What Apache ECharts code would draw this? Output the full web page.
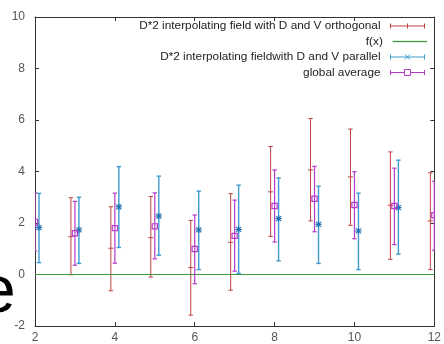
<!DOCTYPE html>
<html>
<head>
<meta charset="utf-8">
<script src="https://cdn.jsdelivr.net/npm/echarts@6/dist/echarts.min.js"></script>
<style>
  html, body { margin: 0; padding: 0; background: #fff; }
  #chart { width: 444px; height: 344px; }
</style>
</head>
<body>
<div id="chart"></div>
<script>
// x positions of each group
const xs = [2, 3, 4, 5, 6, 7, 8, 9, 10, 11, 12];

// D*2 interpolating field, D and V orthogonal (mean, lower, upper)
const orthMean = [null, 1.47, 1.02, 1.43, 0.27, 1.25, 3.21, 4.06, 3.79, 2.69, 2.08];
const orthLow  = [null, -0.01, -0.63, -0.10, -1.58, -0.61, 1.48, 2.08, 1.91, 0.59, 0.19];
const orthHigh = [null, 2.98, 2.63, 3.03, 2.10, 3.14, 4.97, 6.06, 5.65, 4.76, 3.95];

// D*2 interpolating field, D and V parallel (mean, lower, upper)
const parMean = [1.82, 1.73, 2.63, 2.27, 1.73, 1.75, 2.17, 1.95, 1.69, 2.60, null];
const parLow  = [0.46, 0.43, 1.05, 0.75, 0.19, 0.04, 0.53, 0.43, 0.19, 0.79, null];
const parHigh = [3.15, 3.00, 4.19, 3.82, 3.24, 3.47, 3.75, 3.43, 3.16, 4.44, null];

// global average (mean, lower, upper)
const avgMean = [2.04, 1.60, 1.80, 1.87, 0.99, 1.50, 2.66, 2.94, 2.70, 2.66, 2.30];
const avgLow  = [0.91, 0.36, 0.44, 0.61, -0.36, 0.13, 1.26, 1.66, 1.39, 1.16, 0.94];
const avgHigh = [3.17, 2.84, 3.16, 3.17, 2.31, 2.89, 4.06, 4.20, 3.99, 4.13, 3.62];

// f(x) = 0 reference line
const fxX = [2, 12];
const fxY = [0, 0];

const NAME_ORTH = 'D*2 interpolating field with D and V orthogonal';
const NAME_FX = 'f(x)';
const NAME_PAR = 'D*2 interpolating fieldwith D and V parallel';
const NAME_AVG = 'global average';

const RED = '#c24040', GREEN = '#3c9c3c', BLUE = '#3d9bcf', BLUE_DARK = '#1f72b4', MAG = '#b43cc8';
const FONT = '"Liberation Sans", Arial, sans-serif';

function build(mean, low, high, shift) {
  const out = [];
  xs.forEach((x, i) => {
    if (mean[i] == null) return;
    out.push([x + shift, mean[i], low[i], high[i]]);
  });
  return out;
}

function errRenderer(color, lw, marker) {
  return function (params, api) {
    const x = api.value(0);
    const c = api.coord([x, api.value(1)]);
    const lo = api.coord([x, api.value(2)]);
    const hi = api.coord([x, api.value(3)]);
    const cap = 2.2, m = 2.6;
    const st = { stroke: color, lineWidth: lw, fill: null };
    const kids = [
      { type: 'line', shape: { x1: c[0], y1: hi[1], x2: c[0], y2: lo[1] }, style: st },
      { type: 'line', shape: { x1: c[0] - cap, y1: hi[1], x2: c[0] + cap, y2: hi[1] }, style: st },
      { type: 'line', shape: { x1: c[0] - cap, y1: lo[1], x2: c[0] + cap, y2: lo[1] }, style: st }
    ];
    if (marker === 'plus') {
      kids.push({ type: 'line', shape: { x1: c[0] - m, y1: c[1], x2: c[0] + m, y2: c[1] }, style: st });
    } else if (marker === 'star') {
      const sst = { stroke: BLUE_DARK, lineWidth: 1.1, fill: null };
      const a = 3.2, d = 2.5;
      kids.push({ type: 'line', shape: { x1: c[0] - a, y1: c[1], x2: c[0] + a, y2: c[1] }, style: sst });
      kids.push({ type: 'line', shape: { x1: c[0], y1: c[1] - a, x2: c[0], y2: c[1] + a }, style: sst });
      kids.push({ type: 'line', shape: { x1: c[0] - d, y1: c[1] - d, x2: c[0] + d, y2: c[1] + d }, style: sst });
      kids.push({ type: 'line', shape: { x1: c[0] - d, y1: c[1] + d, x2: c[0] + d, y2: c[1] - d }, style: sst });
    } else if (marker === 'square') {
      kids.push({ type: 'rect', shape: { x: c[0] - m, y: c[1] - m, width: 2 * m, height: 2 * m },
        style: { stroke: color, lineWidth: 1.2, fill: null } });
    }
    return { type: 'group', children: kids };
  };
}

// straight segment between two points of a function sample
function segmentRenderer(color) {
  return function (params, api) {
    const a = api.coord([api.value(0), api.value(1)]);
    const b = api.coord([api.value(2), api.value(3)]);
    return { type: 'line', shape: { x1: a[0], y1: a[1], x2: b[0], y2: b[1] },
      style: { stroke: color, lineWidth: 1, fill: null } };
  };
}

const legendRows = [
  { name: NAME_ORTH, y: 26, h: 8, icon: 'path://M0,4H34M0,1.5V6.5M34,1.5V6.5M17,1.5V6.5',
    style: { color: 'none', borderColor: RED, borderWidth: 1 } },
  { name: NAME_FX, y: 41.5, h: 1, icon: 'rect',
    style: { color: GREEN, borderColor: GREEN, borderWidth: 0.3 } },
  { name: NAME_PAR, y: 57, h: 8, icon: 'path://M0,4H34M0,1.5V6.5M34,1.5V6.5M14.5,1.5L19.5,6.5M19.5,1.5L14.5,6.5',
    style: { color: 'none', borderColor: BLUE, borderWidth: 1 } },
  { name: NAME_AVG, y: 72.5, h: 8, icon: 'path://M0,4H14M20,4H34M0,1.5V6.5M34,1.5V6.5M14,1H20V7H14Z',
    style: { color: 'none', borderColor: MAG, borderWidth: 1 } }
];

const axisLineStyle = { color: '#333', width: 1 };

const option = {
  animation: false,
  backgroundColor: '#fff',
  textStyle: { fontFamily: FONT },
  grid: { left: 35, right: 3, top: 17, bottom: 17, containLabel: false },
  xAxis: [
    { type: 'value', min: 2, max: 12, interval: 2, position: 'bottom',
      axisLine: { show: true, onZero: false, lineStyle: axisLineStyle },
      axisTick: { show: true, inside: true, length: 4, lineStyle: axisLineStyle },
      axisLabel: { color: '#555', fontSize: 12, margin: 6, fontFamily: FONT },
      splitLine: { show: false } },
    { type: 'value', min: 2, max: 12, interval: 2, position: 'top',
      axisLine: { show: true, onZero: false, lineStyle: axisLineStyle },
      axisTick: { show: true, inside: true, length: 4, lineStyle: axisLineStyle },
      axisLabel: { show: false }, splitLine: { show: false } }
  ],
  yAxis: [
    { type: 'value', min: -2, max: 10, interval: 2, position: 'left',
      axisLine: { show: true, onZero: false, lineStyle: axisLineStyle },
      axisTick: { show: true, inside: true, length: 4, lineStyle: axisLineStyle },
      axisLabel: { color: '#555', fontSize: 12, margin: 10, fontFamily: FONT },
      splitLine: { show: false } },
    { type: 'value', min: -2, max: 10, interval: 2, position: 'right',
      axisLine: { show: true, onZero: false, lineStyle: axisLineStyle },
      axisTick: { show: true, inside: true, length: 4, lineStyle: axisLineStyle },
      axisLabel: { show: false }, splitLine: { show: false } }
  ],
  legend: legendRows.map(r => ({
    data: [{ name: r.name, icon: r.icon, itemStyle: r.style }],
    orient: 'vertical', align: 'right', right: 17, top: r.y - 7,
    padding: 0, itemWidth: 34, itemHeight: r.h, selectedMode: false,
    itemStyle: r.style,
    textStyle: { fontSize: 11.8, color: '#222', fontFamily: FONT, lineHeight: 14, padding: [0, 5, 0, 0] }
  })),
  series: [
    { name: NAME_ORTH, type: 'custom', clip: true, color: RED,
      renderItem: errRenderer(RED, 1, 'plus'), data: build(orthMean, orthLow, orthHigh, -0.1) },
    { name: NAME_FX, type: 'custom', clip: true, color: GREEN, itemStyle: { color: GREEN },
      renderItem: segmentRenderer(GREEN),
      data: fxX.slice(0, -1).map((x, i) => [x, fxY[i], fxX[i + 1], fxY[i + 1]]) },
    { name: NAME_PAR, type: 'custom', clip: true, color: BLUE,
      renderItem: errRenderer(BLUE, 1.4, 'star'), data: build(parMean, parLow, parHigh, 0.1) },
    { name: NAME_AVG, type: 'custom', clip: true, color: MAG,
      renderItem: errRenderer(MAG, 1.2, 'square'), data: build(avgMean, avgLow, avgHigh, 0) }
  ],
  graphic: [
    { type: 'text', left: -21, top: 261, silent: true,
      style: { text: 'e', font: '66px "Liberation Sans", Arial, sans-serif', fill: '#000' } }
  ]
};

const chart = echarts.init(document.getElementById('chart'), null, { renderer: 'canvas' });
chart.setOption(option);
</script>
</body>
</html>
